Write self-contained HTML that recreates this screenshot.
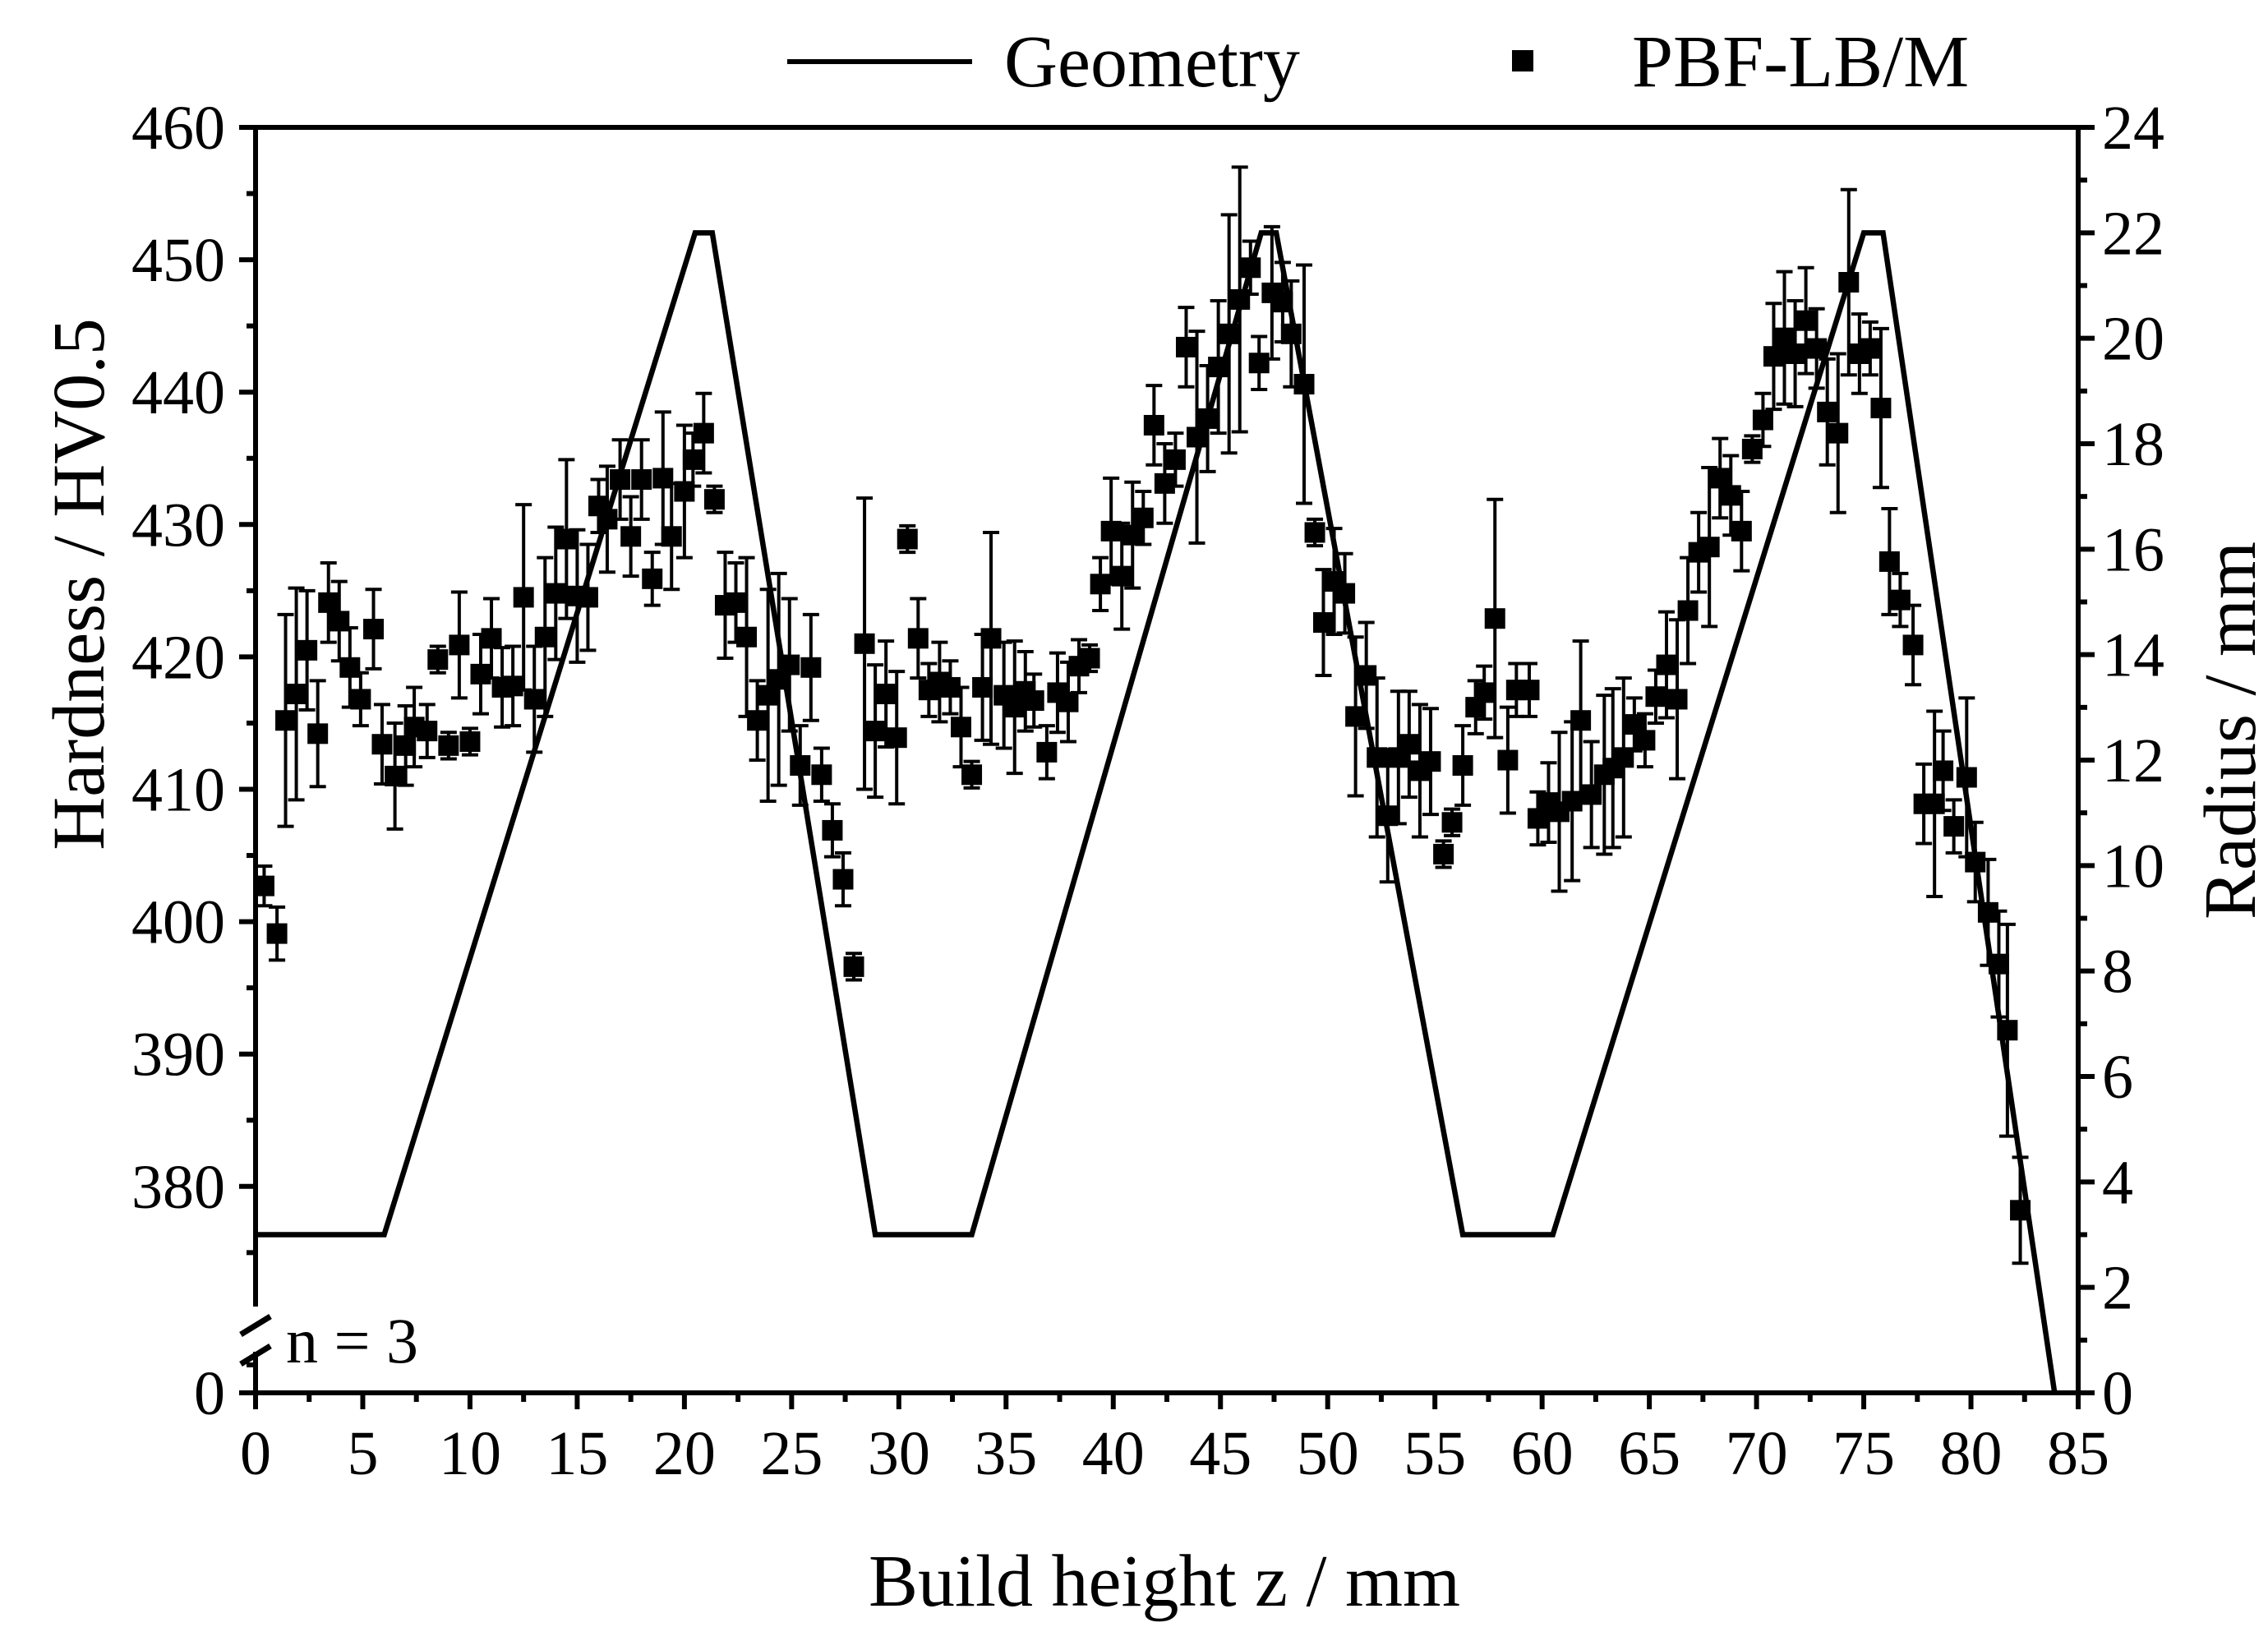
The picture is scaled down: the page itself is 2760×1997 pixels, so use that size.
<!DOCTYPE html>
<html><head><meta charset="utf-8"><style>
html,body{margin:0;padding:0;background:#fff}
svg{display:block}
text{font-family:"Liberation Serif",serif;fill:#000}
</style></head><body>
<svg id="chart" width="2760" height="1997" viewBox="0 0 2760 1997" xmlns="http://www.w3.org/2000/svg">
<g id="axes"></g>
<g id="geom"></g>
<g id="pts"></g>
<g>
<line x1="958" y1="75" x2="1183" y2="75" stroke="#000" stroke-width="6"/>
<text x="1222" y="105" font-size="90">Geometry</text>
<rect x="1840" y="61" width="26" height="26" fill="#000"/>
<text x="1986" y="105" font-size="90">PBF-LB/M</text>
</g>
<text x="1417" y="1954" font-size="90" text-anchor="middle">Build height z / mm</text>
<text transform="translate(126,711) rotate(-90)" font-size="90" text-anchor="middle">Hardness / HV0.5</text>
<text transform="translate(2744,889) rotate(-90)" font-size="90" text-anchor="middle">Radius / mm</text>
<text x="348" y="1658" font-size="78">n = 3</text>
</svg>
<script>
const zVals=[0.4,1.0,1.4,1.9,2.4,2.9,3.4,3.9,4.4,4.9,5.5,5.9,6.5,7.0,7.4,8.0,8.5,9.0,9.5,10.0,10.5,11.0,11.5,12.0,12.5,13.0,13.5,14.0,14.5,15.0,15.5,16.0,16.4,17.0,17.5,18.0,18.5,19.0,19.4,20.0,20.4,20.9,21.4,21.9,22.4,22.9,23.4,23.9,24.4,24.9,25.4,25.9,26.4,26.9,27.4,27.9,28.4,28.9,29.4,29.9,30.4,30.9,31.4,31.9,32.4,32.9,33.4,33.9,34.3,34.9,35.4,35.9,36.3,36.9,37.4,37.9,38.4,38.9,39.4,39.9,40.4,40.9,41.4,41.9,42.4,42.9,43.4,43.9,44.4,44.9,45.4,45.9,46.4,46.8,47.4,47.9,48.3,48.9,49.4,49.8,50.3,50.8,51.3,51.8,52.3,52.8,53.3,53.8,54.3,54.8,55.4,55.8,56.3,56.9,57.3,57.8,58.4,58.8,59.4,59.8,60.3,60.8,61.4,61.8,62.3,62.9,63.3,63.8,64.3,64.8,65.3,65.8,66.3,66.8,67.3,67.8,68.3,68.8,69.3,69.8,70.3,70.8,71.3,71.8,72.3,72.8,73.3,73.8,74.3,74.8,75.3,75.8,76.2,76.7,77.3,77.8,78.3,78.7,79.2,79.8,80.2,80.8,81.3,81.7,82.3];
const hardness=[402.7,399.1,415.2,417.2,420.5,414.2,424.1,422.7,419.2,416.8,422.1,413.4,411.0,413.3,414.7,414.4,419.8,413.3,420.9,413.6,418.7,421.4,417.7,417.8,424.5,416.8,421.5,424.8,428.9,424.6,424.5,431.4,430.4,433.4,429.1,433.4,425.9,433.5,429.1,432.5,434.9,436.9,431.9,423.9,424.1,421.5,415.2,417.1,418.3,419.4,411.8,419.2,411.1,406.9,403.2,396.6,421.0,414.4,417.2,413.9,428.9,421.4,417.5,418.1,417.7,414.7,411.1,417.7,421.4,417.1,416.2,417.4,416.7,412.8,417.3,416.6,419.3,419.9,425.5,429.5,426.1,429.2,430.5,437.5,433.1,434.9,443.4,436.6,438.0,441.9,444.4,447.0,449.4,442.2,447.5,446.8,444.4,440.6,429.4,422.6,425.7,424.8,415.5,418.6,412.4,408.0,412.4,413.4,411.4,412.1,405.1,407.5,411.8,416.2,417.3,422.9,412.2,417.5,417.5,407.8,409.0,408.3,409.1,415.2,409.6,411.1,411.6,412.4,414.9,413.7,417.0,419.4,416.8,423.5,427.9,428.3,433.5,432.2,429.5,435.7,437.9,442.7,444.1,442.9,445.4,443.3,438.5,436.9,448.3,442.9,443.3,438.8,427.2,424.3,420.9,408.9,408.9,411.4,407.2,410.9,404.5,400.7,396.8,391.8,378.2];
const errs=[1.5,2,8,8,4.5,4,3,3,3,2,3,3,4,3,3,2,1,1,4,1,3,3,3,3,7,4,6,5,6,5,4,2,4,3,3,3,2,5,4,5,2,3,1,4,3,6,3,8,8,5,3,4,2,2,2,1,11,5,4,5,1,3,2,3,2,3,1,4,8,4,5,3,2,2,3,3,2,1,2,4,4,4,2,3,3,2,3,8,4,5,9,10,2,2,5,3,4,9,1,4,4,3,6,4,6,5,5,4,5,4,1,1,3,2,2,9,4,2,2,2,3,6,6,6,4,6,6,6,2,2,2,4,6,4,3,6,3,3,3,1,2,4,5,4,4,3,4,6,7,3,2,6,4,2,3,3,7,3,2,6,3,4,4,8,4];
const geomZ=[0,6.0,20.5,21.3,28.9,33.4,46.9,47.6,56.3,60.5,75.0,75.9,83.9];
const geomR=[3,3,22,22,3,3,22,22,3,3,22,22,0];
const xTicks=[0,5,10,15,20,25,30,35,40,45,50,55,60,65,70,75,80,85];
const hTicks=[460,450,440,430,420,410,400,390,380];
const rTicks=[0,2,4,6,8,10,12,14,16,18,20,22,24];

const X0=311,X1=2529,YT=155,YB=1695;
const sx=z=>X0+(z/85)*(X1-X0);
const sh=h=>YT+(460-h)*16.11;
const sr=r=>YB-(r/24)*(YB-YT);
const NS='http://www.w3.org/2000/svg';
function mk(tag,parent){const e=document.createElementNS(NS,tag);parent.appendChild(e);return e;}
const ax=document.getElementById('axes');
function ln(x1,y1,x2,y2,w,name){const l=mk('line',ax);l.setAttribute('x1',x1);l.setAttribute('y1',y1);l.setAttribute('x2',x2);l.setAttribute('y2',y2);l.setAttribute('stroke','#000');l.setAttribute('stroke-width',w);


return l;}
function tx(x,y,s,anchor,name){const t=mk('text',ax);t.setAttribute('x',x);t.setAttribute('y',y);t.setAttribute('font-size','76');t.setAttribute('text-anchor',anchor);t.textContent=s;


}
ln(X0-3,YT,X1+3,YT,6,'top-axis-line');
ln(X0-3,YB,X1+3,YB,6,'x-axis-line');
ln(X0,YT,X0,1590,6,'left-axis-line-upper');
ln(X0,1645,X0,YB,6,'left-axis-line-lower');
ln(X1,YT,X1,YB,6,'right-axis-line');
ln(X0-18,1624,X0+18,1602,7,'axis-break-mark');
ln(X0-18,1660,X0+18,1638,7,'axis-break-mark');
xTicks.forEach(v=>{ln(sx(v),YB,sx(v),YB+20,6,'x-tick');tx(sx(v),1794,String(v),'middle','x-tick-label');
 if(v<85) ln(sx(v+2.5),YB,sx(v+2.5),YB+11,6,'x-minor-tick');});
hTicks.forEach(v=>{ln(X0-20,sh(v),X0,sh(v),6,'y-left-tick');tx(274,sh(v)+26,String(v),'end','y-left-tick-label');
 if(v<460) ln(X0-11,sh(v+5),X0,sh(v+5),6,'y-left-minor-tick');});
ln(X0-11,sh(375),X0,sh(375),6,'y-left-minor-tick');
ln(X0-11,1661,X0,1661,6,'y-left-minor-tick');
ln(X0-20,YB,X0,YB,6,'y-left-tick');tx(274,YB+26,'0','end','y-left-tick-label');
rTicks.forEach(v=>{ln(X1,sr(v),X1+20,sr(v),6,'y-right-tick');tx(2558,sr(v)+26,String(v),'start','y-right-tick-label');
 if(v<24) ln(X1,sr(v+1),X1+11,sr(v+1),6,'y-right-minor-tick');});
const g=document.getElementById('geom');
const pl=mk('polyline',g);
pl.setAttribute('points',geomZ.map((z,i)=>sx(z)+','+sr(geomR[i])).join(' '));
pl.setAttribute('fill','none');pl.setAttribute('stroke','#000');pl.setAttribute('stroke-width','6.5');pl.setAttribute('stroke-linejoin','miter');


const p=document.getElementById('pts');
zVals.forEach((z,i)=>{
 const x=sx(z),y=sh(hardness[i]),e=errs[i]*16.11;
 const gr=mk('g',p);
 
 
 const pth=mk('path',gr);
 pth.setAttribute('d',`M${x},${y-e}V${y+e}M${x-10},${y-e}H${x+10}M${x-10},${y+e}H${x+10}`);
 pth.setAttribute('stroke','#000');pth.setAttribute('stroke-width','4');pth.setAttribute('fill','none');
 const r=mk('rect',gr);
 r.setAttribute('x',x-12.5);r.setAttribute('y',y-12.5);r.setAttribute('width',25);r.setAttribute('height',25);r.setAttribute('fill','#000');
});
</script>
</body></html>
